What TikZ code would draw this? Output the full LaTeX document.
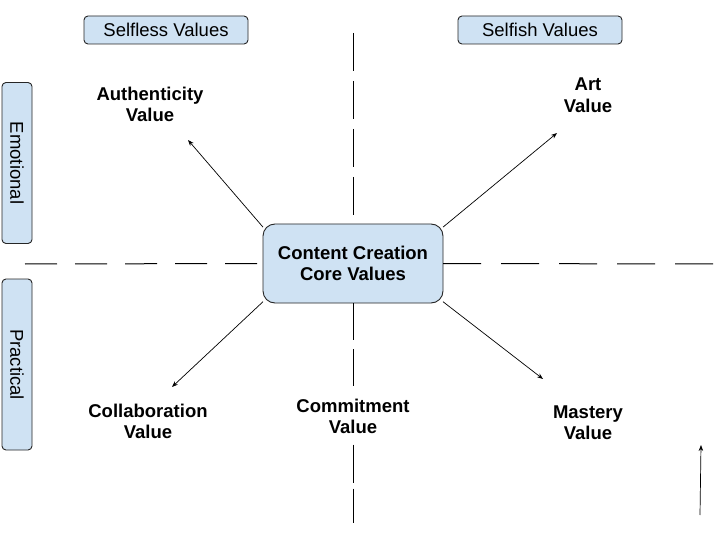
\documentclass[tikz,border=0pt]{standalone}
\usepackage{fontspec}
\setmainfont{Liberation Sans}
\usetikzlibrary{arrows.meta}
\definecolor{boxblue}{HTML}{CFE2F3}
\begin{document}
\begin{tikzpicture}[x=1pt,y=-1pt,
  lab/.style={font=\fontsize{18.5}{21.5}\selectfont\bfseries, align=center, inner sep=2pt},
  tag/.style={draw=black!85, fill=boxblue, rounded corners=4pt, font=\fontsize{18.5}{21.5}\selectfont, inner sep=0pt, line width=0.9pt, outer sep=0pt},
  arr/.style={-{Stealth[length=6pt,width=4.5pt]}, line width=0.7pt},
  axis/.style={line width=1pt}
]
\useasboundingbox (0,0) rectangle (720,540);
\fill[white] (0,0) rectangle (720,540);

% axes coordinates
\coordinate (htl) at (25,264);
\coordinate (htr) at (716,264);
\coordinate (vtt) at (353,33);
\coordinate (vtb) at (353,523);

% category tags
\node[tag, minimum width=164pt, minimum height=28pt] (selfless) at (166,30) {Selfless Values};
\node[tag, minimum width=164pt, minimum height=28pt] (selfish) at (540,30) {Selfish Values};
\node[tag, minimum width=161pt, minimum height=30pt, rotate=-90] (emo) at (17,163) {Emotional};
\node[tag, minimum width=171pt, minimum height=30pt, rotate=-90] (prac) at (17,364.5) {Practical};

% central box
\node[tag, font=\fontsize{18.5}{21.5}\selectfont\bfseries, align=center, minimum width=180pt, minimum height=79pt, rounded corners=12pt] (core) at (353,263.5) {Content Creation\\Core Values};

% value labels
\node[lab] (auth) at (150,104.5) {Authenticity\\Value};
\node[lab] (art) at (588,95) {Art\\Value};
\node[lab] (coll) at (148,421.5) {Collaboration\\Value};
\node[lab, inner xsep=2pt, inner ysep=10.5pt, outer sep=0pt] (comm) at (353,416.5) {Commitment\\Value};
\node[lab] (mast) at (588,422.5) {Mastery\\Value};

% dashed axes
\draw[axis, dash pattern=on 32pt off 18pt] (htl) -- (core.west);
\draw[axis, dash pattern=on 38pt off 20pt] (core.east) -- (htr);
\draw[axis, dash pattern=on 38pt off 10pt] (vtt) -- (core.north);
\draw[axis, dash pattern=on 37pt off 9pt] (core.south) -- (comm.north);
\draw[axis, dash pattern=on 38pt off 6pt] (comm.south) -- (vtb);

% arrow end points
\coordinate (authtip) at (188,140);
\coordinate (arttip) at (557,133);
\coordinate (colltip) at (172,387);
\coordinate (masttip) at (543,379);
\coordinate (lonefoot) at (700,515);
\coordinate (lonetip) at (701,445);

% arrows
\draw[arr] (core.158) -- (authtip);
\draw[arr] (core.22) -- (arttip);
\draw[arr] (core.203) -- (colltip);
\draw[arr] (core.337) -- (masttip);
\draw[arr] (lonefoot) -- (lonetip);
\end{tikzpicture}
\end{document}
